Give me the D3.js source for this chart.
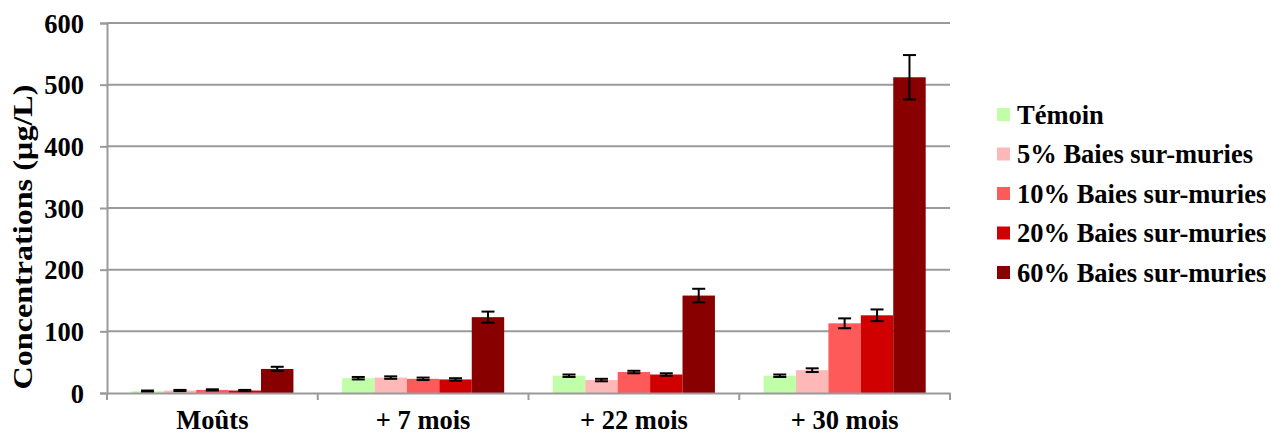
<!DOCTYPE html>
<html>
<head>
<meta charset="utf-8">
<script src="https://cdn.jsdelivr.net/npm/d3@7"></script>
<style>
  html, body { margin: 0; padding: 0; background: #fff; }
  svg text { font-family: "Liberation Serif", "Times New Roman", serif; font-weight: bold; fill: #000; }
</style>
</head>
<body>
<svg id="chart" width="1271" height="434"></svg>
<script>
const categories = ["Moûts", "+ 7 mois", "+ 22 mois", "+ 30 mois"];
const seriesNames = ["Témoin", "5% Baies sur-muries", "10% Baies sur-muries", "20% Baies sur-muries", "60% Baies sur-muries"];
const temoin = [3, 24, 28, 28];
const baies5 = [4, 25, 21, 37];
const baies10 = [5, 23, 34, 113];
const baies20 = [4, 22, 30, 126];
const baies60 = [39, 123, 158, 512];
const errTemoin = [1, 2, 2, 2];
const err5 = [1, 2, 2, 3];
const err10 = [1, 2, 2, 8];
const err20 = [1, 2, 2, 9.5];
const err60 = [3.5, 9, 11, 36];
const yTicks = [0, 100, 200, 300, 400, 500, 600];
const colors = ["#C0FFA8", "#FFB8B8", "#FF5A5A", "#D00000", "#880000"];

const values = [temoin, baies5, baies10, baies20, baies60];
const errors = [errTemoin, err5, err10, err20, err60];

const svg = d3.select("#chart");
const mLeft = 107, mRight = 950, mTop = 23, mBottom = 393;

const y = d3.scaleLinear().domain([0, 600]).range([mBottom, mTop]);
const x0 = d3.scaleBand().domain(categories).range([mLeft, mRight]).padding(0);
const x1 = d3.scaleBand().domain(d3.range(seriesNames.length)).range([0, x0.bandwidth()]).paddingInner(0).paddingOuter(0.75);

// gridlines
svg.append("g").selectAll("line").data(yTicks.filter(t => t > 0)).join("line")
  .attr("x1", mLeft).attr("x2", mRight)
  .attr("y1", d => y(d)).attr("y2", d => y(d))
  .attr("stroke", "#9a9a9a").attr("stroke-width", 2);

// bars
const data = [];
categories.forEach((c, ci) => {
  seriesNames.forEach((s, si) => {
    data.push({c, si, v: values[si][ci], e: errors[si][ci]});
  });
});
svg.append("g").selectAll("rect").data(data).join("rect")
  .attr("x", d => x0(d.c) + x1(d.si))
  .attr("width", x1.bandwidth())
  .attr("y", d => y(d.v))
  .attr("height", d => y(0) - y(d.v))
  .attr("fill", d => colors[d.si]);

// error bars
const eg = svg.append("g").attr("stroke", "#000").attr("stroke-width", 2);
data.forEach(d => {
  const cx = x0(d.c) + x1(d.si) + x1.bandwidth() / 2;
  const y1 = y(d.v + d.e), y2 = y(d.v - d.e);
  const cap = 6.5;
  eg.append("line").attr("x1", cx).attr("x2", cx).attr("y1", y1).attr("y2", y2);
  eg.append("line").attr("x1", cx - cap).attr("x2", cx + cap).attr("y1", y1).attr("y2", y1);
  eg.append("line").attr("x1", cx - cap).attr("x2", cx + cap).attr("y1", y2).attr("y2", y2);
});

// y axis
const yAxis = svg.append("g").attr("transform", `translate(${mLeft},0)`)
  .call(d3.axisLeft(y).tickValues(yTicks).tickSize(7).tickPadding(16));
yAxis.select(".domain").attr("stroke", "#9a9a9a").attr("stroke-width", 2);
yAxis.selectAll(".tick line").attr("stroke", "#9a9a9a").attr("stroke-width", 2);
yAxis.selectAll(".tick text").style("font-size", "26.5px").attr("dy", "0.34em");

// x axis
const xAxis = svg.append("g").attr("transform", `translate(0,${mBottom})`)
  .call(d3.axisBottom(x0).tickSize(0).tickPadding(17));
xAxis.select(".domain").attr("stroke", "#9a9a9a").attr("stroke-width", 2);
xAxis.selectAll(".tick text").style("font-size", "26.5px");
const bounds = categories.map(c => x0(c)).concat([x0(categories[categories.length - 1]) + x0.bandwidth()]);
xAxis.append("g").selectAll("line").data(bounds).join("line")
  .attr("x1", d => d).attr("x2", d => d).attr("y1", 0).attr("y2", 7)
  .attr("stroke", "#9a9a9a").attr("stroke-width", 2);

// y axis title
svg.append("text")
  .attr("transform", `translate(32,237) rotate(-90)`)
  .attr("text-anchor", "middle")
  .attr("textLength", 305)
  .attr("lengthAdjust", "spacingAndGlyphs")
  .style("font-size", "28px")
  .text("Concentrations (µg/L)");

// legend
const lg = svg.append("g").attr("transform", "translate(997,114.5)");
seriesNames.forEach((s, i) => {
  const row = lg.append("g").attr("transform", `translate(0,${i * 39.5})`);
  row.append("rect").attr("x", 0).attr("y", -6.5).attr("width", 13).attr("height", 13).attr("fill", colors[i]);
  row.append("text").attr("x", 20).attr("y", 0).attr("dy", "0.34em").style("font-size", "26.5px").text(s);
});
</script>
</body>
</html>
